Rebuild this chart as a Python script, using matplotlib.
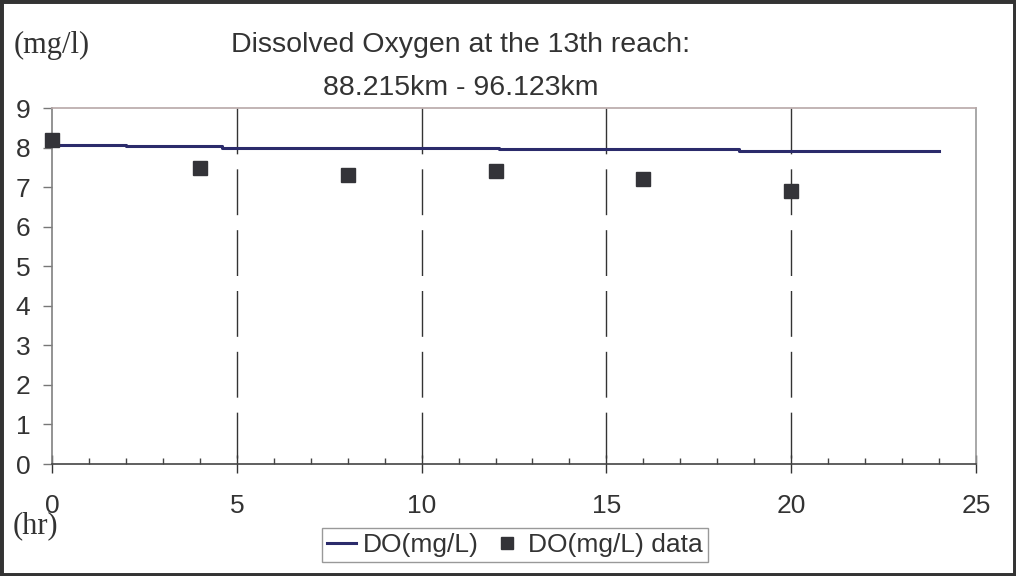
import matplotlib
matplotlib.use("Agg")
import matplotlib.pyplot as plt
from matplotlib.patches import Rectangle
from matplotlib.ticker import MultipleLocator

# Model output (step-wise simulated DO)
step_times = [0, 2.0, 4.6, 7.9, 12.1, 18.6, 24.0]
step_values = [8.06, 8.03, 8.00, 7.98, 7.96, 7.92, 7.92]

# Observed data
obs_times = [0, 4, 8, 12, 16, 20]
obs_values = [8.18, 7.49, 7.30, 7.40, 7.20, 6.90]

title_lines = ["Dissolved Oxygen at the 13th reach:", "88.215km - 96.123km"]
x_ticks = [0, 5, 10, 15, 20, 25]
y_ticks = [0, 1, 2, 3, 4, 5, 6, 7, 8, 9]

plt.rcParams['font.family'] = ['Liberation Sans', 'DejaVu Sans']

fig = plt.figure(figsize=(10.16, 5.76), dpi=100)
ax = fig.add_axes([52/1016, 1-464/576, (976-52)/1016, (464-108)/576])

ax.set_xlim(0, 25)
ax.set_ylim(0, 9)

# vertical dashed grid lines (drawn from top)
ax.vlines([5, 10, 15, 20], 9, 0, colors='#333333', linewidth=1.0,
          linestyles=(0, (33, 10.8)), zorder=1)

ax.plot(step_times, step_values, drawstyle='steps-post', color='#2b2b6b',
        linewidth=2.2, label='DO(mg/L)', zorder=3)
ax.plot(obs_times, obs_values, linestyle='none', marker='s', markersize=10,
        color='#333338', markeredgecolor='#333338', label='DO(mg/L) data',
        zorder=4, clip_on=False)

ax.set_xticks(x_ticks)
ax.set_yticks(y_ticks)
ax.xaxis.set_minor_locator(MultipleLocator(1))
ax.tick_params(axis='x', which='major', direction='inout', length=13, width=1,
               color='#333333', labelsize=19, pad=15, labelcolor='#333333')
ax.tick_params(axis='x', which='minor', direction='in', length=4.3, width=1,
               color='#444444')
ax.tick_params(axis='y', which='major', direction='out', length=6.5, width=1,
               color='#777777', labelsize=19, pad=9, labelcolor='#333333')

ax.spines['left'].set_color('#808080')
ax.spines['right'].set_color('#999999')
ax.spines['top'].set_color('#b8a8a8')
ax.spines['bottom'].set_color('#444444')
for s in ax.spines.values():
    s.set_linewidth(1.2)

fig.text(461/1016, 1-52/576, title_lines[0], ha='center', va='baseline',
         fontsize=20.5, color='#333333')
fig.text(461/1016, 1-95/576, title_lines[1], ha='center', va='baseline',
         fontsize=20.5, color='#333333')

fig.text(14/1016, 1-53/576, "(mg/l)", ha='left', va='baseline',
         fontsize=22, family=['Liberation Serif', 'DejaVu Serif'], color='#333333')
fig.text(13/1016, 1-533/576, "(hr)", ha='left', va='baseline',
         fontsize=22, family=['Liberation Serif', 'DejaVu Serif'], color='#333333')

leg = fig.legend(loc='center', bbox_to_anchor=(515/1016, 1-545/576), ncol=2,
                 fontsize=19, frameon=True, fancybox=False, shadow=False,
                 handlelength=1.1, handletextpad=0.25, columnspacing=0.5,
                 borderpad=0.2, borderaxespad=0, markerscale=0.8)
leg.get_frame().set_edgecolor('#808080')
leg.get_frame().set_linewidth(1.0)
for t in leg.get_texts():
    t.set_color('#333333')

fig.patches.append(Rectangle((0, 0), 1, 1, transform=fig.transFigure,
                             fill=False, edgecolor='#333333', linewidth=5,
                             zorder=10))

fig.savefig("out.png", dpi=100)
